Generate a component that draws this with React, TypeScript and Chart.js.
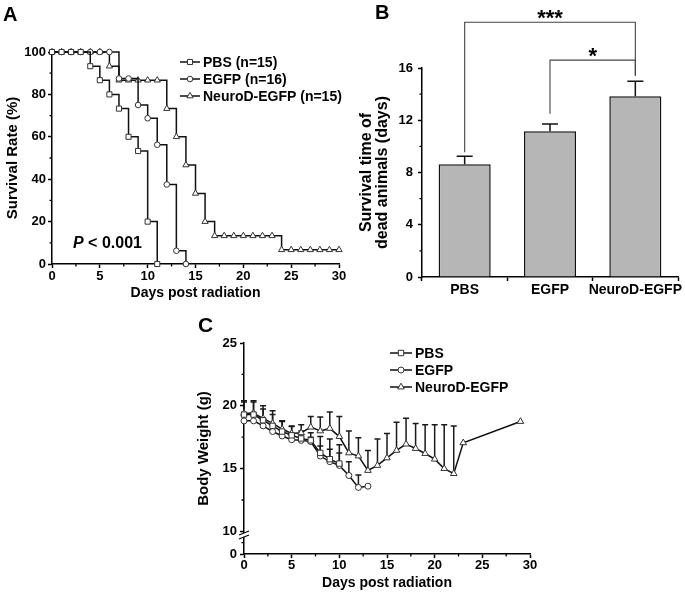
import React, { useEffect, useRef } from 'react';
import { Chart, registerables } from 'chart.js';

Chart.register(...registerables);

const FONT = "'Liberation Sans', Arial, Helvetica, sans-serif";

// ---------------- Panel A : survival ----------------
const survivalDays = [0, 1, 2, 3, 4, 5, 6, 7, 8, 9, 10, 11, 12, 13, 14, 15, 16, 17, 18, 19, 20, 21, 22, 23, 24, 25, 26, 27, 28, 29, 30];
const pbsSurvival = [100, 100, 100, 100, 93.3, 86.7, 80, 73.3, 60, 53.3, 20, 0];
const egfpSurvival = [100, 100, 100, 100, 100, 100, 100, 87.5, 87.5, 75, 68.75, 56.25, 37.5, 6.25, 0];
const neurodSurvival = [100, 100, 100, 100, 100, 100, 93.3, 86.7, 86.7, 86.7, 86.7, 86.7, 73.3, 60, 46.7, 33.3, 20, 13.3, 13.3, 13.3, 13.3, 13.3, 13.3, 13.3, 6.7, 6.7, 6.7, 6.7, 6.7, 6.7, 6.7];
const survivalLegend = ['PBS (n=15)', 'EGFP (n=16)', 'NeuroD-EGFP (n=15)'];
const survivalXMinor = [2.5, 7.5, 12.5, 17.5, 22.5, 27.5];
const survivalYMinor = [10, 30, 50, 70, 90];

// ---------------- Panel B : survival time of dead animals ----------------
const groups = ['PBS', 'EGFP', 'NeuroD-EGFP'];
const deadMean = [8.63, 11.16, 13.84];
const deadSem = [0.61, 0.56, 1.14];
const deadYMinor = [2, 6, 10, 14];
const bracketFrom = [0, 1];
const bracketTo = [2, 2];
const bracketLevel = [19.5, 16.6];
const bracketLeftEnd = [9.55, 12.5];
const bracketRightEnd = [15.4, 15.4];
const bracketText = ['***', '*'];

// ---------------- Panel C : body weight ----------------
const weightLegend = ['PBS', 'EGFP', 'NeuroD-EGFP'];
const pbsWeightDays = [0, 1, 2, 3, 4, 5, 6, 7, 8, 9, 10];
const pbsWeight = [19.3, 19.3, 18.85, 18.4, 17.95, 17.65, 17.4, 17.25, 16.25, 15.75, 15.4];
const pbsWeightErr = [1.0, 1.0, 0.9, 0.9, 0.8, 0.7, 0.6, 0.6, 1.3, 1.6, 1.5];
const egfpWeightDays = [0, 1, 2, 3, 4, 5, 6, 7, 8, 9, 10, 11, 12, 13];
const egfpWeight = [18.8, 18.8, 18.4, 17.95, 17.6, 17.3, 17.25, 17.15, 16.0, 15.55, 15.25, 14.45, 13.5, 13.6];
const egfpWeightErr = [0.6, 0.6, 0.6, 0.55, 0.5, 0.5, 0.35, 0.35, 0.8, 1.0, 1.0, 1.1, 1.0, 0];
const neurodWeightDays = [0, 1, 2, 3, 4, 5, 6, 7, 8, 9, 10, 11, 12, 13, 14, 15, 16, 17, 18, 19, 20, 21, 22, 23, 29];
const neurodWeight = [19.4, 19.4, 19.0, 18.6, 18.15, 17.8, 17.85, 18.3, 18.0, 18.2, 17.55, 16.25, 16.0, 14.85, 15.25, 15.85, 16.45, 16.95, 16.6, 16.2, 15.75, 15.0, 14.6, 17.05, 18.75];
const neurodWeightErr = [1.0, 1.0, 1.0, 1.0, 0.65, 0.6, 0.65, 0.85, 1.1, 1.3, 1.6, 1.75, 1.45, 1.6, 2.1, 1.95, 2.25, 2.05, 2.0, 2.3, 2.75, 3.5, 3.8, 0, 0];
const weightYTicks = [10, 15, 20, 25];
const weightBreakValue = 8.2; // scale position that carries the "0" label below the axis break
const weightBreakLabel = '0';
const weightXMinor = [2.5, 7.5, 12.5, 17.5, 22.5, 27.5];
const weightYMinor = [9.1, 12.5, 17.5, 22.5];

// ---------------- helpers ----------------
const bold = (size: number, lineHeight = 1.2) => ({ family: FONT, size, weight: 'bold' as const, lineHeight });

function drawMarker(ctx: CanvasRenderingContext2D, style: string, x: number, y: number, r: number) {
  ctx.beginPath();
  if (style === 'rect') {
    const s = r * Math.SQRT1_2;
    ctx.rect(x - s, y - s, 2 * s, 2 * s);
  } else if (style === 'triangle') {
    let a = 0;
    ctx.moveTo(x + Math.sin(a) * r, y - Math.cos(a) * r);
    a += (2 * Math.PI) / 3;
    ctx.lineTo(x + Math.sin(a) * r, y - Math.cos(a) * r);
    a += (2 * Math.PI) / 3;
    ctx.lineTo(x + Math.sin(a) * r, y - Math.cos(a) * r);
    ctx.closePath();
  } else {
    ctx.arc(x, y, r, 0, Math.PI * 2);
  }
  ctx.fill();
  ctx.stroke();
}

function axisBase() {
  return {
    grid: { drawOnChartArea: false, drawTicks: true, tickLength: 4, tickColor: '#000', tickWidth: 1.5 },
    border: { display: true, color: '#000', width: 1.5 },
  };
}

function minorTicks(xMinor: number[], yMinor: number[], len = 2.5) {
  return {
    id: 'minorTicks',
    afterDraw(chart: any) {
      const { ctx, chartArea } = chart;
      const xs = chart.scales.x;
      const ys = chart.scales.y;
      ctx.save();
      ctx.strokeStyle = '#000';
      ctx.lineWidth = 1.3;
      ctx.beginPath();
      xMinor.forEach((v) => {
        const px = xs.getPixelForValue(v);
        ctx.moveTo(px, chartArea.bottom);
        ctx.lineTo(px, chartArea.bottom + len);
      });
      yMinor.forEach((v) => {
        const py = ys.getPixelForValue(v);
        ctx.moveTo(chartArea.left, py);
        ctx.lineTo(chartArea.left - len, py);
      });
      ctx.stroke();
      ctx.restore();
    },
  };
}

function lineLegend(x0: number, rows: number[], lineLen: number, textGap: number, fontSize: number) {
  return {
    id: 'lineLegend',
    afterDraw(chart: any) {
      const ctx = chart.ctx;
      ctx.save();
      chart.data.datasets.forEach((ds: any, i: number) => {
        const y = rows[i];
        ctx.strokeStyle = ds.borderColor;
        ctx.lineWidth = ds.borderWidth;
        ctx.beginPath();
        ctx.moveTo(x0, y);
        ctx.lineTo(x0 + lineLen, y);
        ctx.stroke();
        ctx.fillStyle = ds.pointBackgroundColor;
        ctx.strokeStyle = ds.pointBorderColor;
        ctx.lineWidth = ds.pointBorderWidth;
        drawMarker(ctx, ds.pointStyle, x0 + lineLen / 2, y, ds.pointRadius);
        ctx.fillStyle = '#000';
        ctx.font = `bold ${fontSize}px ${FONT}`;
        ctx.textBaseline = 'middle';
        ctx.textAlign = 'left';
        ctx.fillText(ds.label, x0 + lineLen + textGap, y + 1);
      });
      ctx.restore();
    },
  };
}

function panelLetter(letter: string, x: number, y: number, size = 20) {
  return {
    id: 'panelLetter',
    afterDraw(chart: any) {
      const ctx = chart.ctx;
      ctx.save();
      ctx.fillStyle = '#000';
      ctx.font = `bold ${size}px ${FONT}`;
      ctx.textBaseline = 'alphabetic';
      ctx.textAlign = 'left';
      ctx.fillText(letter, x, y);
      ctx.restore();
    },
  };
}

function lineDataset(label: string, xs: number[], ys: number[], style: string, radius: number, extra: any = {}) {
  return {
    label,
    data: ys.map((v, i) => ({ x: xs[i], y: v })),
    borderColor: '#111',
    borderWidth: 1.5,
    pointStyle: style,
    pointRadius: radius,
    pointBackgroundColor: '#fff',
    pointBorderColor: '#333',
    pointBorderWidth: 1,
    clip: false,
    ...extra,
  };
}

// ---------------- configs ----------------
function configA(): any {
  const pText = {
    id: 'pText',
    afterDraw(chart: any) {
      const ctx = chart.ctx;
      ctx.save();
      ctx.fillStyle = '#000';
      ctx.textBaseline = 'alphabetic';
      const x = chart.chartArea.left + 21;
      const y = chart.chartArea.bottom - 16;
      ctx.font = `italic bold 16px ${FONT}`;
      ctx.fillText('P', x, y);
      const w = ctx.measureText('P').width;
      ctx.font = `bold 16px ${FONT}`;
      ctx.fillText(' < 0.001', x + w, y);
      ctx.restore();
    },
  };
  return {
    type: 'line',
    data: {
      datasets: [
        lineDataset(survivalLegend[0], survivalDays, pbsSurvival, 'rect', 3.6, { stepped: 'before' }),
        lineDataset(survivalLegend[1], survivalDays, egfpSurvival, 'circle', 2.8, { stepped: 'before' }),
        lineDataset(survivalLegend[2], survivalDays, neurodSurvival, 'triangle', 3.6, { stepped: 'before' }),
      ],
    },
    options: {
      animation: false,
      responsive: false,
      maintainAspectRatio: false,
      layout: { padding: { left: 0, top: 52, right: 16, bottom: 0 } },
      plugins: { legend: { display: false }, tooltip: { enabled: false } },
      scales: {
        x: {
          type: 'linear',
          min: 0,
          max: 30,
          ...axisBase(),
          ticks: { stepSize: 5, color: '#000', font: bold(13), padding: 1 },
          title: { display: true, text: 'Days post radiation', color: '#000', font: bold(14), padding: { top: 4, bottom: 2 } },
          afterFit: (s: any) => { s.height = 40; },
        },
        y: {
          min: 0,
          max: 100,
          ...axisBase(),
          ticks: { stepSize: 20, color: '#000', font: bold(13), padding: 2 },
          title: { display: true, text: 'Survival Rate (%)', color: '#000', font: bold(15), padding: { top: 4, bottom: 0 } },
          afterFit: (s: any) => { s.width = 52; },
        },
      },
    },
    plugins: [minorTicks(survivalXMinor, survivalYMinor), lineLegend(180, [62, 79, 96], 20, 3, 14), panelLetter('A', 3, 21), pText],
  };
}

function configB(): any {
  const errorAndBrackets = {
    id: 'errorAndBrackets',
    afterDatasetsDraw(chart: any) {
      const ctx = chart.ctx;
      const meta = chart.getDatasetMeta(0);
      const ys = chart.scales.y;
      ctx.save();
      // error bars (upper)
      ctx.strokeStyle = '#111';
      ctx.lineWidth = 1.5;
      deadMean.forEach((m, i) => {
        const x = meta.data[i].x;
        const y0 = ys.getPixelForValue(m);
        const y1 = ys.getPixelForValue(m + deadSem[i]);
        ctx.beginPath();
        ctx.moveTo(x, y0);
        ctx.lineTo(x, y1);
        ctx.moveTo(x - 8, y1);
        ctx.lineTo(x + 8, y1);
        ctx.stroke();
      });
      // significance brackets
      ctx.strokeStyle = '#444';
      ctx.lineWidth = 1.1;
      ctx.fillStyle = '#000';
      ctx.font = `bold 22px ${FONT}`;
      ctx.textAlign = 'center';
      ctx.textBaseline = 'alphabetic';
      bracketLevel.forEach((lv, k) => {
        const xa = meta.data[bracketFrom[k]].x;
        const xb = meta.data[bracketTo[k]].x;
        const yl = ys.getPixelForValue(lv);
        ctx.beginPath();
        ctx.moveTo(xa, ys.getPixelForValue(bracketLeftEnd[k]));
        ctx.lineTo(xa, yl);
        ctx.lineTo(xb, yl);
        ctx.lineTo(xb, ys.getPixelForValue(bracketRightEnd[k]));
        ctx.stroke();
        ctx.fillText(bracketText[k], (xa + xb) / 2, yl + 3);
      });
      ctx.restore();
    },
  };
  return {
    type: 'bar',
    data: {
      labels: groups,
      datasets: [
        {
          data: deadMean,
          backgroundColor: '#b6b6b6',
          borderColor: '#111',
          borderWidth: 1.5,
          barPercentage: 0.61,
          categoryPercentage: 1.0,
        },
      ],
    },
    options: {
      animation: false,
      responsive: false,
      maintainAspectRatio: false,
      layout: { padding: { left: 10, top: 68, right: 17, bottom: 0 } },
      plugins: { legend: { display: false }, tooltip: { enabled: false } },
      scales: {
        x: {
          ...axisBase(),
          grid: { ...axisBase().grid, offset: true },
          ticks: { color: '#000', font: bold(14), padding: 1, maxRotation: 0, autoSkip: false },
          afterFit: (s: any) => { s.height = 23; },
        },
        y: {
          min: 0,
          max: 16,
          ...axisBase(),
          ticks: { stepSize: 4, color: '#000', font: bold(13), padding: 5 },
          title: {
            display: true,
            text: ['Survival time of', 'dead animals (days)'],
            color: '#000',
            font: bold(16, 1.0),
            padding: { top: 4, bottom: 0 },
          },
          afterFit: (s: any) => { s.width = 67; },
        },
      },
    },
    plugins: [minorTicks([], deadYMinor), errorAndBrackets, panelLetter('B', 30, 19)],
  };
}

function configC(): any {
  const errs = [pbsWeightErr, egfpWeightErr, neurodWeightErr];
  const errorBars = {
    id: 'weightErrors',
    beforeDatasetsDraw(chart: any) {
      const ctx = chart.ctx;
      const ys = chart.scales.y;
      ctx.save();
      ctx.strokeStyle = '#1a1a1a';
      ctx.lineWidth = 1.5;
      chart.data.datasets.forEach((ds: any, di: number) => {
        const meta = chart.getDatasetMeta(di);
        ds.data.forEach((p: any, i: number) => {
          const e = errs[di][i];
          if (!e) return;
          const x = meta.data[i].x;
          const y0 = ys.getPixelForValue(p.y);
          const y1 = ys.getPixelForValue(p.y + e);
          ctx.beginPath();
          ctx.moveTo(x, y0);
          ctx.lineTo(x, y1);
          ctx.moveTo(x - 3, y1);
          ctx.lineTo(x + 3, y1);
          ctx.stroke();
        });
      });
      ctx.restore();
    },
  };
  const axisBreak = {
    id: 'axisBreak',
    afterDraw(chart: any) {
      const ctx = chart.ctx;
      const ys = chart.scales.y;
      const x = chart.chartArea.left;
      const yc = ys.getPixelForValue(9.75);
      ctx.save();
      ctx.fillStyle = '#fff';
      ctx.beginPath();
      ctx.moveTo(x - 5, yc + 0.5);
      ctx.lineTo(x + 5, yc - 3.5);
      ctx.lineTo(x + 5, yc + 0.5);
      ctx.lineTo(x - 5, yc + 4.5);
      ctx.closePath();
      ctx.fill();
      ctx.strokeStyle = '#000';
      ctx.lineWidth = 1.2;
      ctx.beginPath();
      ctx.moveTo(x - 5, yc + 0.5);
      ctx.lineTo(x + 5, yc - 3.5);
      ctx.moveTo(x - 5, yc + 4.5);
      ctx.lineTo(x + 5, yc + 0.5);
      ctx.stroke();
      ctx.restore();
    },
  };
  return {
    type: 'line',
    data: {
      datasets: [
        lineDataset(weightLegend[0], pbsWeightDays, pbsWeight, 'rect', 3.8),
        lineDataset(weightLegend[1], egfpWeightDays, egfpWeight, 'circle', 3),
        lineDataset(weightLegend[2], neurodWeightDays, neurodWeight, 'triangle', 3.8),
      ],
    },
    options: {
      animation: false,
      responsive: false,
      maintainAspectRatio: false,
      layout: { padding: { left: 11, top: 43, right: 20, bottom: 0 } },
      plugins: { legend: { display: false }, tooltip: { enabled: false } },
      scales: {
        x: {
          type: 'linear',
          min: 0,
          max: 30,
          ...axisBase(),
          ticks: { stepSize: 5, color: '#000', font: bold(13), padding: 0 },
          title: { display: true, text: 'Days post radiation', color: '#000', font: bold(14), padding: { top: 4, bottom: 2 } },
          afterFit: (s: any) => { s.height = 40; },
        },
        y: {
          min: weightBreakValue,
          max: 25,
          ...axisBase(),
          afterBuildTicks: (s: any) => {
            s.ticks = [{ value: weightBreakValue }, ...weightYTicks.map((v) => ({ value: v }))];
          },
          ticks: {
            color: '#000',
            font: bold(13),
            padding: 3,
            callback: (v: any) => (v === weightBreakValue ? weightBreakLabel : String(v)),
          },
          title: { display: true, text: 'Body Weight (g)', color: '#000', font: bold(15), padding: { top: 4, bottom: 0 } },
          afterFit: (s: any) => { s.width = 53; },
        },
      },
    },
    plugins: [minorTicks(weightXMinor, weightYMinor), errorBars, axisBreak, lineLegend(210, [53, 70, 87], 22, 3, 14), panelLetter('C', 18, 32, 21)],
  };
}

export default function App() {
  const aRef = useRef<HTMLCanvasElement>(null);
  const bRef = useRef<HTMLCanvasElement>(null);
  const cRef = useRef<HTMLCanvasElement>(null);

  useEffect(() => {
    const charts = [
      new Chart(aRef.current as HTMLCanvasElement, configA()),
      new Chart(bRef.current as HTMLCanvasElement, configB()),
      new Chart(cRef.current as HTMLCanvasElement, configC()),
    ];
    return () => charts.forEach((c) => c.destroy());
  }, []);

  const cv = (left: number, top: number, w: number, h: number): React.CSSProperties => ({
    position: 'absolute',
    left,
    top,
    width: w,
    height: h,
  });

  return (
    <div style={{ position: 'absolute', left: 0, top: 0, width: 685, height: 594, overflow: 'hidden', background: '#fff' }}>
      <canvas ref={aRef} width={355} height={304} style={cv(0, 0, 355, 304)} />
      <canvas ref={bRef} width={350} height={300} style={cv(345, 0, 350, 300)} />
      <canvas ref={cRef} width={370} height={294} style={cv(180, 300, 370, 294)} />
    </div>
  );
}
